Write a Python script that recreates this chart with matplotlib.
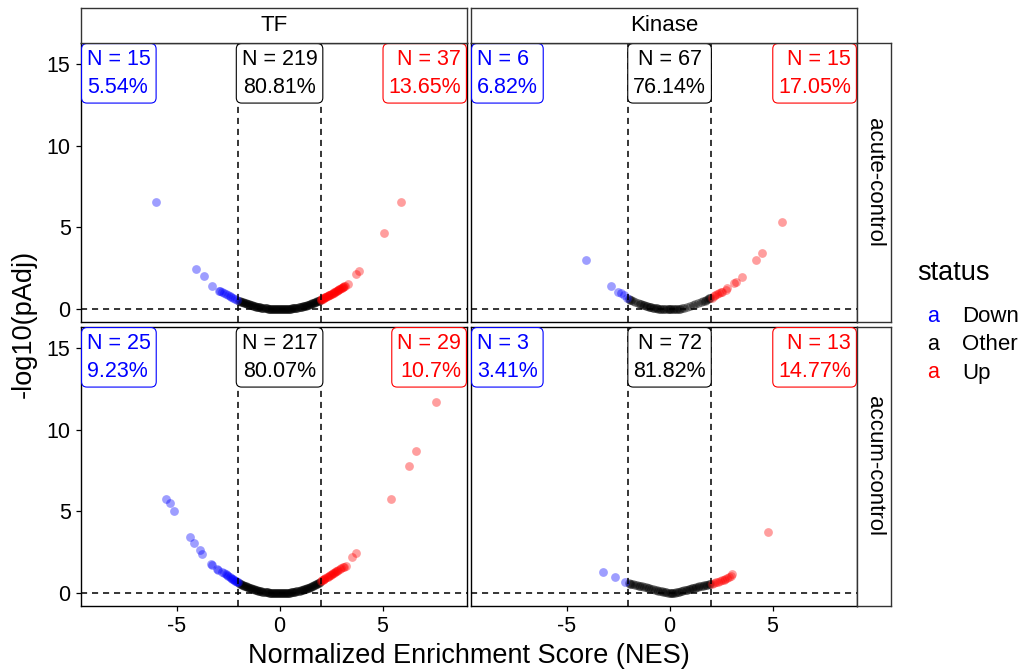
import matplotlib
matplotlib.use("Agg")
import matplotlib.pyplot as plt

plt.rcParams['font.family'] = ['Liberation Sans', 'DejaVu Sans']

# ---- data (NES, -log10(pAdj)) ----
tf_acute_down_nes = [-5.99, -4.08, -3.69, -3.29, -2.95, -2.88, -2.8, -2.72, -2.62, -2.52, -2.43, -2.35, -2.25, -2.15, -2.06]
tf_acute_down_y = [6.56, 2.47, 2.02, 1.43, 1.15, 1.1, 1.04, 0.98, 0.92, 0.86, 0.8, 0.75, 0.69, 0.63, 0.58]
tf_other_nes = [-1.98, -1.93, -1.88, -1.83, -1.78, -1.73, -1.68, -1.63, -1.58, -1.53, -1.48, -1.43, -1.38, -1.33,
                -1.28, -1.23, -1.18, -1.13, -1.08, -1.03, -0.98, -0.93, -0.88, -0.83, -0.78, -0.73, -0.68, -0.63,
                -0.58, -0.53, -0.48, -0.43, -0.38, -0.33, -0.28, -0.23, -0.18, -0.13, -0.08, -0.03,
                0.02, 0.07, 0.12, 0.17, 0.22, 0.27, 0.32, 0.37, 0.42, 0.47, 0.52, 0.57, 0.62, 0.67,
                0.72, 0.77, 0.82, 0.87, 0.92, 0.97, 1.02, 1.07, 1.12, 1.17, 1.22, 1.27, 1.32, 1.37,
                1.42, 1.47, 1.52, 1.57, 1.62, 1.67, 1.72, 1.77, 1.82, 1.87, 1.92, 1.97]
tf_acute_other_y = [0.54, 0.51, 0.48, 0.46, 0.43, 0.41, 0.39, 0.36, 0.34, 0.32, 0.3, 0.28, 0.26, 0.24,
                    0.22, 0.21, 0.19, 0.175, 0.16, 0.145, 0.13, 0.12, 0.106, 0.094, 0.083, 0.073, 0.063, 0.054,
                    0.046, 0.038, 0.032, 0.025, 0.02, 0.015, 0.011, 0.007, 0.004, 0.002, 0.001, 0.0,
                    0.0, 0.001, 0.002, 0.004, 0.007, 0.011, 0.015, 0.02, 0.026, 0.032, 0.039, 0.047, 0.056, 0.066,
                    0.076, 0.087, 0.098, 0.11, 0.124, 0.137, 0.152, 0.167, 0.183, 0.2, 0.217, 0.235, 0.254, 0.274,
                    0.294, 0.315, 0.337, 0.36, 0.383, 0.407, 0.432, 0.457, 0.484, 0.51, 0.538, 0.567]
tf_acute_up_nes = [2.0, 2.03, 2.06, 2.1, 2.13, 2.16, 2.2, 2.23, 2.27, 2.3, 2.34, 2.38, 2.42, 2.46, 2.5, 2.54, 2.58,
                   2.62, 2.66, 2.7, 2.74, 2.78, 2.82, 2.86, 2.9, 2.94, 2.98, 3.02, 3.06, 3.1, 3.14, 3.18, 3.3,
                   3.72, 3.88, 5.06, 5.9]
tf_acute_up_y = [0.6, 0.62, 0.64, 0.66, 0.68, 0.7, 0.73, 0.75, 0.77, 0.8, 0.82, 0.85, 0.88, 0.9, 0.93, 0.96, 0.99,
                 1.02, 1.05, 1.08, 1.1, 1.13, 1.16, 1.19, 1.22, 1.25, 1.28, 1.31, 1.34, 1.37, 1.4, 1.43, 1.55,
                 2.13, 2.37, 4.64, 6.56]

tf_accum_down_nes = [-5.5, -5.34, -5.13, -4.37, -4.13, -3.88, -3.75, -3.33, -3.28, -3.04, -2.98, -2.78, -2.72,
                     -2.62, -2.56, -2.48, -2.4, -2.35, -2.3, -2.25, -2.2, -2.16, -2.12, -2.08, -2.04]
tf_accum_down_y = [5.77, 5.5, 5.01, 3.45, 3.05, 2.64, 2.43, 1.8, 1.76, 1.47, 1.42, 1.3, 1.25,
                   1.16, 1.1, 1.04, 0.98, 0.94, 0.9, 0.86, 0.82, 0.78, 0.74, 0.71, 0.68]
tf_accum_other_y = [0.63, 0.6, 0.56, 0.54, 0.51, 0.48, 0.45, 0.43, 0.4, 0.37, 0.35, 0.33, 0.3, 0.28,
                    0.26, 0.24, 0.22, 0.2, 0.19, 0.17, 0.154, 0.138, 0.124, 0.11, 0.097, 0.085, 0.074, 0.064,
                    0.054, 0.045, 0.037, 0.03, 0.023, 0.017, 0.012, 0.008, 0.005, 0.003, 0.001, 0.0,
                    0.0, 0.001, 0.003, 0.005, 0.008, 0.013, 0.018, 0.024, 0.031, 0.039, 0.047, 0.057, 0.067, 0.079,
                    0.091, 0.104, 0.118, 0.132, 0.148, 0.165, 0.182, 0.2, 0.22, 0.24, 0.26, 0.282, 0.305, 0.328,
                    0.353, 0.378, 0.404, 0.431, 0.459, 0.488, 0.518, 0.548, 0.58, 0.612, 0.645, 0.68]
tf_accum_up_nes = [2.02, 2.06, 2.1, 2.14, 2.18, 2.23, 2.28, 2.33, 2.38, 2.43, 2.48, 2.53, 2.58, 2.63, 2.68,
                   2.74, 2.8, 2.86, 2.92, 2.98, 3.06, 3.14, 3.24, 3.53, 3.72, 5.42, 6.26, 6.6, 7.6]
tf_accum_up_y = [0.76, 0.8, 0.83, 0.86, 0.9, 0.94, 0.98, 1.02, 1.06, 1.1, 1.14, 1.18, 1.22, 1.26, 1.3,
                 1.34, 1.38, 1.43, 1.48, 1.52, 1.58, 1.63, 1.7, 2.19, 2.45, 5.77, 7.75, 8.71, 11.7]

kin_acute_down_nes = [-4.08, -2.86, -2.51, -2.38, -2.22, -2.05]
kin_acute_down_y = [3.02, 1.44, 1.09, 0.99, 0.87, 0.72]
kin_acute_other_nes = [-1.98, -1.93, -1.85, -1.78, -1.7, -1.55, -1.45, -1.38, -1.3, -1.22, -1.15, -1.1, -1.02,
                       -0.95, -0.88, -0.82, -0.75, -0.68, -0.6, -0.55, -0.48, -0.4, -0.33, -0.25, -0.18, -0.1,
                       -0.05, 0.02, 0.08, 0.15, 0.22, 0.3, 0.38, 0.45, 0.52, 0.6, 0.72, 0.85, 1.0, 1.12, 1.25,
                       1.4, 1.52, 1.62, 1.7, 1.78, 1.85, 1.9, 1.95]
kin_acute_other_y = [0.64, 0.6, 0.55, 0.5, 0.46, 0.38, 0.33, 0.3, 0.27, 0.24, 0.21, 0.19, 0.17,
                     0.15, 0.13, 0.11, 0.09, 0.075, 0.06, 0.05, 0.04, 0.03, 0.02, 0.012, 0.006, 0.002,
                     0.0, 0.0, 0.002, 0.005, 0.01, 0.016, 0.026, 0.036, 0.05, 0.068, 0.1, 0.14, 0.19, 0.24, 0.3,
                     0.37, 0.44, 0.49, 0.54, 0.59, 0.64, 0.68, 0.71]
kin_acute_up_nes = [2.07, 2.15, 2.22, 2.31, 2.42, 2.5, 2.56, 2.72, 2.8, 3.12, 3.24, 3.53, 4.2, 4.5, 5.47]
kin_acute_up_y = [0.72, 0.8, 0.86, 0.93, 1.0, 1.05, 1.09, 1.2, 1.28, 1.64, 1.7, 2.0, 3.02, 3.42, 5.31]

kin_accum_down_nes = [-3.22, -2.64, -2.14]
kin_accum_down_y = [1.32, 1.03, 0.69]
kin_accum_other_nes = [-1.98, -1.92, -1.85, -1.78, -1.7, -1.6, -1.5, -1.42, -1.35, -1.25, -1.15, -1.05, -0.98,
                       -0.9, -0.8, -0.72, -0.62, -0.55, -0.45, -0.38, -0.3, -0.22, -0.15, -0.08, 0.0, 0.06,
                       0.12, 0.18, 0.25, 0.32, 0.4, 0.48, 0.55, 0.62, 0.7, 0.78, 0.85, 0.92, 1.0, 1.08, 1.15,
                       1.22, 1.3, 1.38, 1.45, 1.52, 1.6, 1.68, 1.75, 1.82, 1.9, 1.96]
kin_accum_other_y = [0.62, 0.6, 0.58, 0.56, 0.53, 0.5, 0.47, 0.44, 0.42, 0.39, 0.36, 0.33, 0.3,
                     0.28, 0.25, 0.22, 0.19, 0.17, 0.14, 0.12, 0.1, 0.08, 0.06, 0.04, 0.02, 0.01,
                     0.0, 0.02, 0.04, 0.06, 0.09, 0.11, 0.14, 0.16, 0.19, 0.21, 0.23, 0.26, 0.28, 0.31, 0.33,
                     0.35, 0.37, 0.39, 0.42, 0.44, 0.47, 0.49, 0.52, 0.54, 0.57, 0.59]
kin_accum_up_nes = [2.05, 2.15, 2.25, 2.35, 2.45, 2.56, 2.62, 2.7, 2.8, 2.88, 2.96, 3.04, 4.79]
kin_accum_up_y = [0.6, 0.63, 0.67, 0.71, 0.75, 0.79, 0.83, 0.88, 0.93, 1.0, 1.08, 1.18, 3.73]

# counts / percentages (Down, Other, Up)
tf_acute_n = [15, 219, 37]
tf_acute_pct = ["5.54%", "80.81%", "13.65%"]
kin_acute_n = [6, 67, 15]
kin_acute_pct = ["6.82%", "76.14%", "17.05%"]
tf_accum_n = [25, 217, 29]
tf_accum_pct = ["9.23%", "80.07%", "10.7%"]
kin_accum_n = [3, 72, 13]
kin_accum_pct = ["3.41%", "81.82%", "14.77%"]

col_names = ["TF", "Kinase"]
row_names = ["acute-control", "accum-control"]
status = ["Down", "Other", "Up"]
colors = ["blue", "black", "red"]

panels = [
    (0, 0, tf_acute_down_nes, tf_acute_down_y, tf_other_nes, tf_acute_other_y,
     tf_acute_up_nes, tf_acute_up_y, tf_acute_n, tf_acute_pct),
    (0, 1, kin_acute_down_nes, kin_acute_down_y, kin_acute_other_nes, kin_acute_other_y,
     kin_acute_up_nes, kin_acute_up_y, kin_acute_n, kin_acute_pct),
    (1, 0, tf_accum_down_nes, tf_accum_down_y, tf_other_nes, tf_accum_other_y,
     tf_accum_up_nes, tf_accum_up_y, tf_accum_n, tf_accum_pct),
    (1, 1, kin_accum_down_nes, kin_accum_down_y, kin_accum_other_nes, kin_accum_other_y,
     kin_accum_up_nes, kin_accum_up_y, kin_accum_n, kin_accum_pct),
]

W, H = 1025, 672
fig = plt.figure(figsize=(W / 100, H / 100), dpi=100)


def rect(x0, y0, x1, y1):
    return [x0 / W, 1 - y1 / H, (x1 - x0) / W, (y1 - y0) / H]


cols = [(81, 467), (471, 857)]
rows = [(43, 321.5), (327, 605.5)]
fs = 15.5
dash = (0, (4, 3.2))
ms = 40
al = 0.38

for r, c, dn, dy, on, oy, un, uy, ns, pcts in panels:
    ax = fig.add_axes(rect(cols[c][0], rows[r][0], cols[c][1], rows[r][1]))
    ax.scatter(on, oy, s=ms, color="black", alpha=al, linewidths=0, zorder=2)
    ax.scatter(dn, dy, s=ms, color="blue", alpha=al, linewidths=0, zorder=2)
    ax.scatter(un, uy, s=ms, color="red", alpha=al, linewidths=0, zorder=2)
    ax.axvline(-2, color="black", lw=1.1, ls=dash, zorder=3)
    ax.axvline(2, color="black", lw=1.1, ls=dash, zorder=3)
    ax.axhline(0, color="black", lw=1.1, ls=dash, zorder=3)
    ax.set_xlim(-9.64, 9.1)
    ax.set_ylim(-0.74, 16.26)
    ax.set_xticks([-5, 0, 5])
    ax.set_yticks([0, 5, 10, 15])
    ax.tick_params(length=3.5, width=0.9, pad=4, labelsize=fs, colors="black")
    if c == 1:
        ax.tick_params(axis="y", left=False, labelleft=False)
    if r == 0:
        ax.tick_params(axis="x", bottom=False, labelbottom=False)
    ax.set_xticklabels(["-5", "0", "5"])
    for sp in ax.spines.values():
        sp.set_color("black")
        sp.set_linewidth(1.0)

    # N / percent labels
    specs = [((0, 1), (4.3, -4.3), "left", ("axes fraction", "axes fraction")),
             ((0, 1), (0, -4.3), "center", ("data", "axes fraction")),
             ((1, 1), (-4.3, -4.3), "right", ("axes fraction", "axes fraction"))]
    for k in range(3):
        xy, off, ha, xyc = specs[k]
        ax.annotate(f"N = {ns[k]}\n{pcts[k]}", xy=xy, xycoords=xyc, xytext=off,
                    textcoords="offset points", ha=ha, va="top", multialignment=ha,
                    fontsize=fs, color=colors[k], linespacing=1.42, zorder=5,
                    bbox=dict(boxstyle="round,pad=0.25,rounding_size=0.25", fc="white",
                              ec=colors[k], lw=0.8))

# strips
for c in range(2):
    s = fig.add_axes(rect(cols[c][0], 8, cols[c][1], 43))
    s.set_xticks([]); s.set_yticks([])
    for sp in s.spines.values():
        sp.set_color("#333333"); sp.set_linewidth(1.0)
    s.text(0.5, 0.5, col_names[c], ha="center", va="center", fontsize=16, transform=s.transAxes)
for r in range(2):
    s = fig.add_axes(rect(857, rows[r][0], 891, rows[r][1]))
    s.set_xticks([]); s.set_yticks([])
    for sp in s.spines.values():
        sp.set_color("#333333"); sp.set_linewidth(1.0)
    s.text(0.5, 0.5, row_names[r], ha="center", va="center", rotation=270, fontsize=16,
           transform=s.transAxes)

fig.text(469 / W, 1 - 656 / H, "Normalized Enrichment Score (NES)", ha="center", va="center", fontsize=19.5)
fig.text(24 / W, 1 - 324 / H, "-log10(pAdj)", ha="center", va="center", rotation=90, fontsize=19.5)

# legend
fig.text(917 / W, 1 - 273 / H, "status", ha="left", va="center", fontsize=19.5)
for k in range(3):
    yk = 1 - (316 + 28.5 * k) / H
    fig.text(933 / W, yk, "a", ha="center", va="center", fontsize=fs, color=colors[k])
    fig.text(962 / W, yk, status[k], ha="left", va="center", fontsize=16)

fig.savefig("out.png", dpi=100)
